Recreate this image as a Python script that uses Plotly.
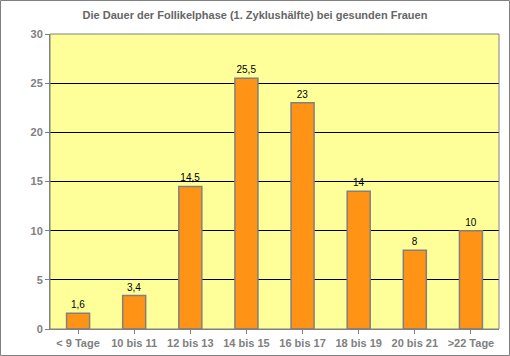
import plotly.graph_objects as go

categories = ["< 9 Tage", "10 bis 11", "12 bis 13", "14 bis 15", "16 bis 17", "18 bis 19", "20 bis 21", ">22 Tage"]
values = [1.6, 3.4, 14.5, 25.5, 23, 14, 8, 10]
value_labels = ["1,6", "3,4", "14,5", "25,5", "23", "14", "8", "10"]
y_ticks = [0, 5, 10, 15, 20, 25, 30]

W, H = 510, 356
ml, mr, mt, mb = 50, 11, 34, 27
pw, ph = W - ml - mr, H - mt - mb

fig = go.Figure(go.Bar(
    x=categories, y=values, text=value_labels, textposition="outside",
    textfont=dict(family="Arial", size=10, color="black"),
    marker=dict(color="#FF9316", line=dict(color="#808080", width=1.5)),
    cliponaxis=False,
))

fig.update_layout(
    width=W, height=H, autosize=False,
    margin=dict(l=ml, r=mr, t=mt, b=mb, pad=0, autoexpand=False),
    paper_bgcolor="white", plot_bgcolor="#FFFF99",
    bargap=0.59, showlegend=False,
    title=dict(text="<b>Die Dauer der Follikelphase (1. Zyklushälfte) bei gesunden Frauen</b>",
               x=0.5, xanchor="center", y=1 - 15 / H, yanchor="middle",
               font=dict(family="Arial", size=11, color="#666666")),
    font=dict(family="Arial", size=11, color="#808080"),
    xaxis=dict(showgrid=False, showline=True, linecolor="#808080", linewidth=1,
               ticks="outside", ticklen=4, tickcolor="#808080", automargin=False,
               tickfont=dict(family="Arial", size=11, color="#808080", weight="bold"),
               mirror=False, fixedrange=True),
    yaxis=dict(range=[0, 30], tickvals=y_ticks, showgrid=True, gridcolor="black", gridwidth=1,
               showline=True, linecolor="#808080", linewidth=1, automargin=False,
               ticks="outside", ticklen=4, tickcolor="#808080",
               tickfont=dict(family="Arial", size=11, color="#808080", weight="bold"),
               zeroline=False, fixedrange=True),
    shapes=[
        dict(type="rect", xref="paper", yref="paper",
             x0=(-ml + 0.5) / pw, x1=1 + (mr - 0.5) / pw,
             y0=(-mb + 0.5) / ph, y1=1 + (mt - 0.5) / ph,
             line=dict(color="#808080", width=1), layer="below"),
        dict(type="rect", xref="paper", yref="paper", x0=0, x1=1, y0=0, y1=1,
             line=dict(color="#808080", width=1), layer="above"),
    ],
)

fig.write_html("out.html", config={"displayModeBar": False},
               post_script="document.body.style.margin='0';document.body.style.overflow='hidden';")
